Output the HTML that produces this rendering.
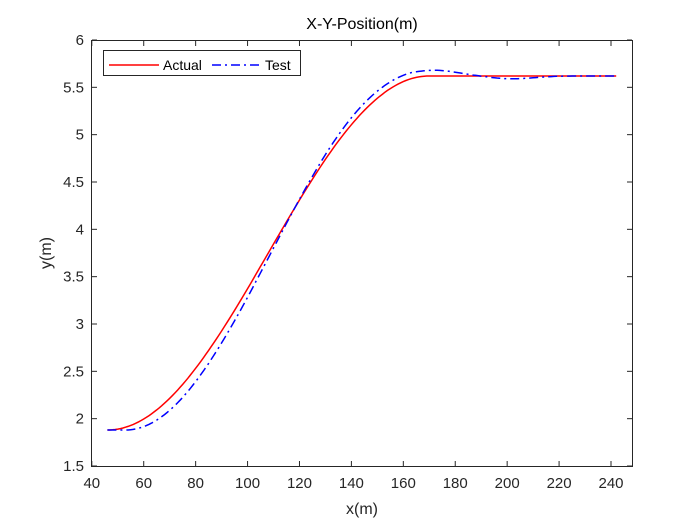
<!DOCTYPE html>
<html><head><style>
body{margin:0;background:#fff;}
svg{display:block;font-family:"Liberation Sans",Arial,sans-serif;}
</style></head><body>
<svg id="s" width="700" height="525" xmlns="http://www.w3.org/2000/svg">
<rect width="700" height="525" fill="#fff"/>
<rect x="91.5" y="40.5" width="541" height="426" fill="#fff" stroke="#262626" stroke-width="1"/>
<g id="ticks" stroke="#262626" stroke-width="1"></g>
<g id="labels" font-size="15" fill="#262626"></g>
<text x="362" y="29" font-size="16" text-anchor="middle" fill="#000">X-Y-Position(m)</text>
<text x="362" y="514" font-size="16" text-anchor="middle" fill="#262626">x(m)</text>
<text transform="translate(51,253) rotate(-90)" font-size="16" text-anchor="middle" fill="#262626">y(m)</text>
<path id="act" fill="none" stroke="#ff0000" stroke-width="1.5"/>
<path id="tst" fill="none" stroke="#0000ff" stroke-width="1.5" stroke-dasharray="9,4,2,4"/>
<rect x="103.5" y="50.5" width="197" height="25" fill="#fff" stroke="#262626"/>
<line x1="109" y1="65" x2="159" y2="65" stroke="#ff0000" stroke-width="1.5"/>
<text x="163" y="70" font-size="14" fill="#000">Actual</text>
<line x1="212" y1="65" x2="262" y2="65" stroke="#0000ff" stroke-width="1.5" stroke-dasharray="9,4,2,4"/>
<text x="265" y="70" font-size="14" fill="#000">Test</text>
</svg>
<script>
var X=function(x){return 91.8+(x-40)*2.596},Y=function(y){return 466-(y-1.5)*94.67};
var t=document.getElementById('ticks'),l=document.getElementById('labels'),ns="http://www.w3.org/2000/svg";
function el(p,n,a,txt){var e=document.createElementNS(ns,n);for(var k in a)e.setAttribute(k,a[k]);if(txt)e.textContent=txt;p.appendChild(e);}
for(var v=40;v<=240;v+=20){var px=X(v);el(t,'line',{x1:px,y1:466,x2:px,y2:461});el(t,'line',{x1:px,y1:41,x2:px,y2:46});el(l,'text',{x:px,y:488,'text-anchor':'middle'},String(v));}
for(var v=1.5;v<=6.001;v+=0.5){var py=Y(v);el(t,'line',{x1:92,y1:py,x2:97,y2:py});el(t,'line',{x1:632,y1:py,x2:627,y2:py});el(l,'text',{x:84,y:py+5,'text-anchor':'end'},String(+v.toFixed(1)));}
function s(t){t=Math.max(0,Math.min(1,t));return (1-Math.cos(Math.PI*t))/2;}
var a="",b="";
for(var x=46;x<=242;x+=1){
var ya=1.88+3.74*s((x-46)/124);
var yb=1.88+3.74*s((x-53)/112)+0.06*Math.exp(-Math.pow((x-172)/13,2))-0.03*Math.exp(-Math.pow((x-202)/12,2));
a+=(x==46?"M":"L")+X(x).toFixed(1)+","+Y(ya).toFixed(1);
b+=(x==46?"M":"L")+X(x).toFixed(1)+","+Y(yb).toFixed(1);}
document.getElementById('act').setAttribute('d',a);
document.getElementById('tst').setAttribute('d',b);
</script>
</body></html>
